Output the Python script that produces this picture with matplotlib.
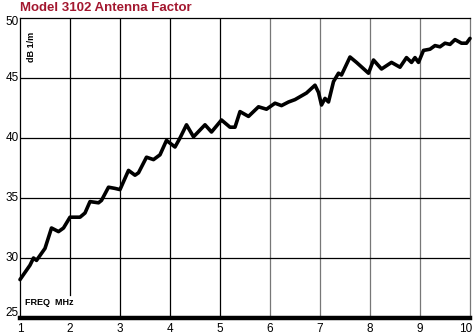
import matplotlib
matplotlib.use("Agg")
import matplotlib.pyplot as plt

# frequency in MHz and antenna factor in dB 1/m
freq = [1.0, 1.2, 1.27, 1.33, 1.5, 1.63, 1.77, 1.87, 2.0, 2.2, 2.3, 2.4, 2.57,
        2.63, 2.77, 2.9, 3.0, 3.17, 3.3, 3.37, 3.53, 3.67, 3.8, 3.93, 4.1,
        4.2, 4.33, 4.47, 4.7, 4.83, 5.03, 5.2, 5.3, 5.4, 5.57, 5.77, 5.93,
        6.1, 6.23, 6.37, 6.5, 6.73, 6.9, 6.97, 7.03, 7.1, 7.17, 7.27, 7.37,
        7.43, 7.6, 7.73, 7.97, 8.07, 8.23, 8.43, 8.6, 8.73, 8.83, 8.9, 8.97,
        9.07, 9.2, 9.3, 9.4, 9.5, 9.6, 9.7, 9.83, 9.93, 10.0]
factor = [28.2, 29.4, 30.0, 29.8, 30.8, 32.5, 32.2, 32.5, 33.4, 33.4, 33.75,
          34.7, 34.6, 34.8, 35.9, 35.8, 35.7, 37.3, 36.9, 37.1, 38.4, 38.2,
          38.6, 39.8, 39.25, 40.0, 41.1, 40.1, 41.1, 40.5, 41.5, 40.9, 40.9,
          42.2, 41.8, 42.6, 42.4, 42.9, 42.7, 43.0, 43.2, 43.75, 44.4, 43.8,
          42.75, 43.3, 43.0, 44.7, 45.4, 45.25, 46.75, 46.3, 45.4, 46.5,
          45.75, 46.3, 45.9, 46.7, 46.3, 46.7, 46.3, 47.3, 47.4, 47.7, 47.6,
          47.9, 47.8, 48.2, 47.9, 47.9, 48.3]

x_ticks = [1, 2, 3, 4, 5, 6, 7, 8, 9, 10]
y_ticks = [25, 30, 35, 40, 45, 50]

FONT = ["Liberation Sans Narrow", "Liberation Sans", "DejaVu Sans"]
TITLE_RED = "#a3172f"

W, H = 475, 336
fig = plt.figure(figsize=(W / 100, H / 100), dpi=100)
ax = fig.add_axes([20 / W, 18 / H, 450 / W, 300 / H])
ax.set_xlim(1, 10)
ax.set_ylim(25, 50)

# grid: black verticals 2-5, grey 6-9, black horizontals
for xv in x_ticks[1:-1]:
    col = "black" if xv <= 5 else "#777777"
    bottom = 26.9 if xv == 2 else 25
    ax.plot([xv, xv], [bottom, 50], color=col, lw=0.9, zorder=1)
for yv in y_ticks[1:-1]:
    ax.axhline(yv, color="black", lw=0.9, zorder=1)

for side in ("left", "top"):
    ax.spines[side].set_linewidth(0.9)
ax.spines["right"].set_color("#777777")
ax.spines["right"].set_linewidth(0.9)
ax.spines["bottom"].set_linewidth(3.2)

ax.plot(freq, factor, color="black", lw=2.6, solid_joinstyle="round",
        solid_capstyle="round", zorder=3, clip_on=False)

ax.set_xticks([])
ax.set_yticks([])
for xv in x_ticks:
    if xv == 10:
        ax.text(10.04, 23.85, str(xv), ha="right", va="baseline",
                fontsize=8.5, family=FONT)
    else:
        ax.text(xv, 23.85, str(xv), ha="center", va="baseline", fontsize=8.5,
                family=FONT)
for yv in y_ticks:
    yy = {25: 25.45, 50: 49.65}.get(yv, yv)
    ax.text(0.97, yy, str(yv), ha="right", va="center", fontsize=8.5,
            family=FONT, clip_on=False)

ax.text(1.1, 26.3, "FREQ  MHz", ha="left", va="center", fontsize=6.5,
        fontweight="bold", family=FONT)
ax.text(1.22, 47.6, "dB 1/m", ha="center", va="center", fontsize=6.5,
        fontweight="bold", family=FONT, rotation=90)

fig.text(20 / W, 1 - 8 / H, "Model 3102 Antenna Factor", ha="left",
         va="center", fontsize=9.5, fontweight="bold", color=TITLE_RED,
         family=FONT)

fig.savefig("out.png", dpi=100)
